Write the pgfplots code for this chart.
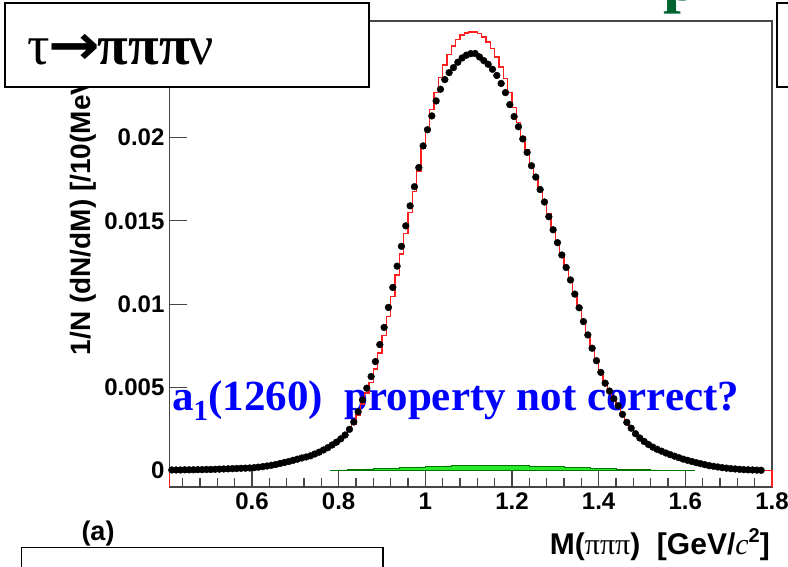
\documentclass[border=0pt]{standalone}
\usepackage{fontspec}
\setmainfont{Liberation Serif}
\setsansfont{Liberation Sans}
\newfontfamily\arrowfont{DejaVu Sans}
\usepackage{graphicx}
\usepackage{pgfplots}
\pgfplotsset{compat=1.18}

\definecolor{framegray}{RGB}{70,70,70}
\definecolor{bkgreen}{RGB}{40,235,40}
\definecolor{titlegreen}{RGB}{0,100,50}
\definecolor{mcred}{RGB}{255,30,30}
\newcommand{\fs}[1]{\fontsize{#1}{#1}\selectfont}

% data points (10 MeV bins, bin centres)
\pgfplotstableread{
x y
0.415 0.00004
0.425 0.00004
0.435 0.00004
0.445 0.00005
0.455 0.00005
0.465 0.00005
0.475 0.00006
0.485 0.00006
0.495 0.00007
0.505 0.00007
0.515 0.00008
0.525 0.00009
0.535 0.00010
0.545 0.00011
0.555 0.00012
0.565 0.00013
0.575 0.00014
0.585 0.00015
0.595 0.00016
0.605 0.00018
0.615 0.00021
0.625 0.00024
0.635 0.00028
0.645 0.00032
0.655 0.00037
0.665 0.00043
0.675 0.00049
0.685 0.00055
0.695 0.00062
0.705 0.00069
0.715 0.00076
0.725 0.00082
0.735 0.00089
0.745 0.00100
0.755 0.00111
0.765 0.00124
0.775 0.00138
0.785 0.00154
0.795 0.00171
0.805 0.00191
0.815 0.00214
0.825 0.00248
0.835 0.00292
0.845 0.00353
0.855 0.00425
0.865 0.00495
0.875 0.00565
0.885 0.00655
0.895 0.00757
0.905 0.00860
0.915 0.00980
0.925 0.01100
0.935 0.01228
0.945 0.01347
0.955 0.01470
0.965 0.01590
0.975 0.01705
0.985 0.01820
0.995 0.01950
1.005 0.02047
1.015 0.02130
1.025 0.02220
1.035 0.02290
1.045 0.02348
1.055 0.02390
1.065 0.02420
1.075 0.02452
1.085 0.02478
1.095 0.02495
1.105 0.02504
1.115 0.02505
1.125 0.02484
1.135 0.02462
1.145 0.02440
1.155 0.02410
1.165 0.02373
1.175 0.02325
1.185 0.02270
1.195 0.02198
1.205 0.02126
1.215 0.02065
1.225 0.01992
1.235 0.01911
1.245 0.01831
1.255 0.01763
1.265 0.01688
1.275 0.01613
1.285 0.01525
1.295 0.01446
1.305 0.01369
1.315 0.01295
1.325 0.01220
1.335 0.01145
1.345 0.01060
1.355 0.00978
1.365 0.00895
1.375 0.00815
1.385 0.00735
1.395 0.00660
1.405 0.00590
1.415 0.00525
1.425 0.00478
1.435 0.00432
1.445 0.00390
1.455 0.00338
1.465 0.00290
1.475 0.00255
1.485 0.00222
1.495 0.00196
1.505 0.00175
1.515 0.00157
1.525 0.00141
1.535 0.00128
1.545 0.00117
1.555 0.00106
1.565 0.00096
1.575 0.00087
1.585 0.00078
1.595 0.00069
1.605 0.00062
1.615 0.00055
1.625 0.00048
1.635 0.00042
1.645 0.00036
1.655 0.00030
1.665 0.00026
1.675 0.00022
1.685 0.00018
1.695 0.00015
1.705 0.00012
1.715 0.00010
1.725 0.00008
1.735 0.00006
1.745 0.00005
1.755 0.00004
1.765 0.00003
1.775 0.00002
}\datatable

% simulation histogram (low bin edges, 10 MeV bins)
\pgfplotstableread{
x y
0.41 -0.001
0.41 0.00004
0.42 0.00004
0.43 0.00004
0.44 0.00005
0.45 0.00005
0.46 0.00005
0.47 0.00006
0.48 0.00006
0.49 0.00007
0.50 0.00007
0.51 0.00008
0.52 0.00009
0.53 0.00010
0.54 0.00011
0.55 0.00012
0.56 0.00013
0.57 0.00014
0.58 0.00015
0.59 0.00016
0.60 0.00018
0.61 0.00021
0.62 0.00024
0.63 0.00028
0.64 0.00032
0.65 0.00037
0.66 0.00043
0.67 0.00049
0.68 0.00055
0.69 0.00062
0.70 0.00069
0.71 0.00076
0.72 0.00082
0.73 0.00089
0.74 0.00100
0.75 0.00111
0.76 0.00124
0.77 0.00138
0.78 0.00152
0.79 0.00168
0.80 0.00186
0.81 0.00207
0.82 0.00238
0.83 0.00280
0.84 0.00335
0.85 0.00400
0.86 0.00465
0.87 0.00530
0.88 0.00610
0.89 0.00705
0.90 0.00810
0.91 0.00925
0.92 0.01045
0.93 0.01175
0.94 0.01300
0.95 0.01425
0.96 0.01550
0.97 0.01675
0.98 0.01800
0.99 0.01935
1.00 0.02060
1.01 0.02170
1.02 0.02270
1.03 0.02360
1.04 0.02435
1.05 0.02500
1.06 0.02550
1.07 0.02590
1.08 0.02615
1.09 0.02628
1.10 0.02633
1.11 0.02633
1.12 0.02625
1.13 0.02605
1.14 0.02575
1.15 0.02535
1.16 0.02485
1.17 0.02425
1.18 0.02355
1.19 0.02270
1.20 0.02180
1.21 0.02090
1.22 0.02005
1.23 0.01925
1.24 0.01845
1.25 0.01770
1.26 0.01695
1.27 0.01620
1.28 0.01540
1.29 0.01460
1.30 0.01380
1.31 0.01300
1.32 0.01220
1.33 0.01140
1.34 0.01060
1.35 0.00980
1.36 0.00900
1.37 0.00820
1.38 0.00740
1.39 0.00665
1.40 0.00592
1.41 0.00528
1.42 0.00478
1.43 0.00432
1.44 0.00390
1.45 0.00338
1.46 0.00290
1.47 0.00255
1.48 0.00222
1.49 0.00196
1.50 0.00175
1.51 0.00157
1.52 0.00141
1.53 0.00128
1.54 0.00117
1.55 0.00106
1.56 0.00096
1.57 0.00087
1.58 0.00078
1.59 0.00069
1.60 0.00062
1.61 0.00055
1.62 0.00048
1.63 0.00042
1.64 0.00036
1.65 0.00030
1.66 0.00026
1.67 0.00022
1.68 0.00018
1.69 0.00015
1.70 0.00012
1.71 0.00010
1.72 0.00008
1.73 0.00006
1.74 0.00005
1.75 0.00004
1.76 0.00003
1.77 0.00002
1.78 0.00001
1.79 0.00001
1.80 0.00001
1.80 -0.001
}\mctable

% background histogram (low bin edges)
\pgfplotstableread{
x y
0.78 0.00002
0.80 0.00004
0.82 0.00006
0.84 0.00008
0.86 0.00010
0.88 0.00012
0.90 0.00014
0.92 0.00016
0.94 0.00018
0.96 0.00020
0.98 0.00022
1.00 0.00024
1.02 0.00026
1.04 0.00028
1.06 0.00029
1.08 0.00030
1.10 0.00030
1.12 0.00031
1.14 0.00030
1.16 0.00030
1.18 0.00030
1.20 0.00029
1.22 0.00029
1.24 0.00028
1.26 0.00027
1.28 0.00025
1.30 0.00023
1.32 0.00021
1.34 0.00019
1.36 0.00017
1.38 0.00015
1.40 0.00013
1.42 0.00011
1.44 0.00009
1.46 0.00008
1.48 0.00006
1.50 0.00005
1.52 0.00004
1.54 0.00003
1.56 0.00002
1.58 0.00001
1.60 0.00001
1.62 0.00001
}\bgtable

\begin{document}
\begin{tikzpicture}[x=1pt,y=1pt]
\useasboundingbox (0,0) rectangle (788,567);
\begin{scope}
\clip (0,0) rectangle (788,567);

% y axis title (its upper end sits under the decay-mode box)
\node[rotate=90, anchor=base east, inner sep=0] at (90,540)
  {\sffamily\bfseries\fs{28}1/N (dN/dM) [/10(MeV/{\rmfamily\mdseries\itshape c}\raisebox{0.42em}{\fs{19}2})]};

% annotation
\node[anchor=base west, inner sep=0, text=blue] at (172,156)
  {\rmfamily\bfseries\fs{43}a\raisebox{-0.22em}{\fs{29}1}(1260)\hspace{0.5em}property not correct?};

\begin{axis}[
  at={(169.6pt,79.7pt)}, anchor=south west,
  scale only axis, width=602.4pt, height=466.3pt,
  xmin=0.41, xmax=1.80, ymin=-0.001, ymax=0.027,
  scaled x ticks=false, scaled y ticks=false,
  axis line style={draw=framegray, line width=1.6pt},
  xtick={0.6,0.8,1.0,1.2,1.4,1.6,1.8},
  xticklabels={0.6,0.8,1,1.2,1.4,1.6,1.8},
  minor xtick={0.44,0.48,0.52,0.56,0.64,0.68,0.72,0.76,0.84,0.88,0.92,0.96,1.04,1.08,1.12,1.16,1.24,1.28,1.32,1.36,1.44,1.48,1.52,1.56,1.64,1.68,1.72,1.76},
  ytick={0,0.005,0.01,0.015,0.02},
  yticklabels={0,0.005,0.01,0.015,0.02},
  xtick pos=bottom, ytick pos=left, tick align=inside,
  major tick length=17pt, minor tick length=9pt,
  every tick/.style={draw=framegray, line width=1.2pt},
  ticklabel style={font=\sffamily\bfseries\fs{24}},
  xticklabel style={anchor=north, inner sep=0pt, yshift=-5pt},
  yticklabel style={anchor=east, inner sep=0pt, xshift=-5pt},
  clip=false,
]
\addplot[const plot mark left, fill=bkgreen, draw=black!55!green, line width=0.8pt]
  table[x=x,y=y] {\bgtable} \closedcycle;
\addplot[const plot mark left, draw=mcred, line width=1.5pt]
  table[x=x,y=y] {\mctable};
\addplot[only marks, mark=*, mark size=3.4pt, black]
  table[x=x,y=y] {\datatable};
\end{axis}

% boxes and labels around the frame
\draw[fill=white, line width=1.5pt] (5,564) rectangle (369,480);
\node[anchor=base west, inner sep=0] at (27,502)
  {\rmfamily\fs{56}τ\kern-0.03em{\arrowfont\bfseries\scalebox{1.1}[1]{→}}\kern-0.03em{\bfseries πππ}\kern-0.02em ν};
\draw[fill=white, line width=1.5pt] (777,564) rectangle (800,480);
\node[anchor=base west, inner sep=0, text=titlegreen] at (663,566)
  {\rmfamily\bfseries\fs{64}p};
\node at (98,33) {\sffamily\bfseries\fs{27}(a)};
\draw[fill=white, line width=1.5pt] (21.7,19.3) rectangle (383,-10);
\node[anchor=base east, inner sep=0] at (770,12)
  {\sffamily\bfseries\fs{30}M({\rmfamily\mdseries πππ})\ \ [GeV/{\rmfamily\mdseries\itshape c}\raisebox{0.42em}{\fs{20}2}]};
\end{scope}
\end{tikzpicture}
\end{document}
